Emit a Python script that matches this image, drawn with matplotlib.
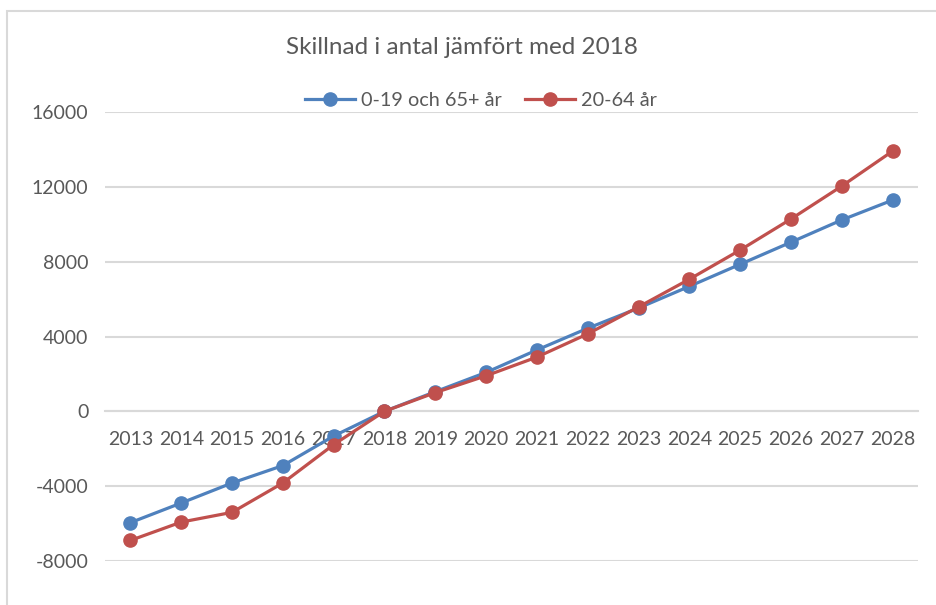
import matplotlib.pyplot as plt
from matplotlib.patches import Rectangle

# data
years = [str(y) for y in range(2013, 2029)]
young_old = [-5950, -4900, -3830, -2900, -1320, 0, 1050, 2080, 3280, 4440,
             5520, 6680, 7860, 9040, 10230, 11290]
working = [-6900, -5920, -5400, -3830, -1780, 0, 1000, 1900, 2900, 4140,
           5580, 7060, 8620, 10280, 12040, 13910]
yticks = [-8000, -4000, 0, 4000, 8000, 12000, 16000]

blue = '#4F81BD'
red = '#C0504D'
txt = '#595959'
grid = '#D9D9D9'

plt.rcParams['font.family'] = ['Lato', 'DejaVu Sans']

fig = plt.figure(figsize=(9.36, 6.05), dpi=100)
# chart area border
fig.patches.append(Rectangle((7 / 936, -0.1), 1.2, 1 - 11 / 605 + 0.1, transform=fig.transFigure,
                             fill=False, edgecolor=grid, linewidth=1.5))

ax = fig.add_axes([105 / 936, 44 / 605, 813 / 936, 449 / 605])
x = list(range(len(years)))
ax.plot(x, young_old, color=blue, lw=2.3, marker='o', ms=9.5, label='0-19 och 65+ år', zorder=3, clip_on=False)
ax.plot(x, working, color=red, lw=2.3, marker='o', ms=9.5, label='20-64 år', zorder=4, clip_on=False)

ax.set_xlim(-0.5, len(years) - 0.5)
ax.set_ylim(-8000, 16000)
ax.set_yticks(yticks)
ax.set_yticklabels([str(v) for v in yticks])
ax.set_xticks(x)
ax.set_xticklabels(years)
ax.yaxis.grid(True, color=grid, lw=1.5)
ax.set_axisbelow(True)
for s in ['top', 'right', 'left']:
    ax.spines[s].set_visible(False)
# category axis crosses at 0
ax.spines['bottom'].set_position(('data', 0))
ax.spines['bottom'].set_color(grid)
ax.spines['bottom'].set_linewidth(1.5)
ax.spines['bottom'].set_zorder(1)
ax.tick_params(axis='both', length=0, colors=txt, labelsize=14)
ax.tick_params(axis='y', pad=12)
ax.tick_params(axis='x', pad=14)

fig.text(462 / 936, 1 - 47 / 605, 'Skillnad i antal jämfört med 2018', ha='center', va='center',
         fontsize=17.5, color=txt)
leg = fig.legend(loc='center', bbox_to_anchor=(481 / 936, 1 - 100 / 605), ncol=2, frameon=False,
                 fontsize=14.3, handlelength=2.5, handletextpad=0.3, columnspacing=1.2, labelcolor=txt)

fig.savefig('out.png', dpi=100)
